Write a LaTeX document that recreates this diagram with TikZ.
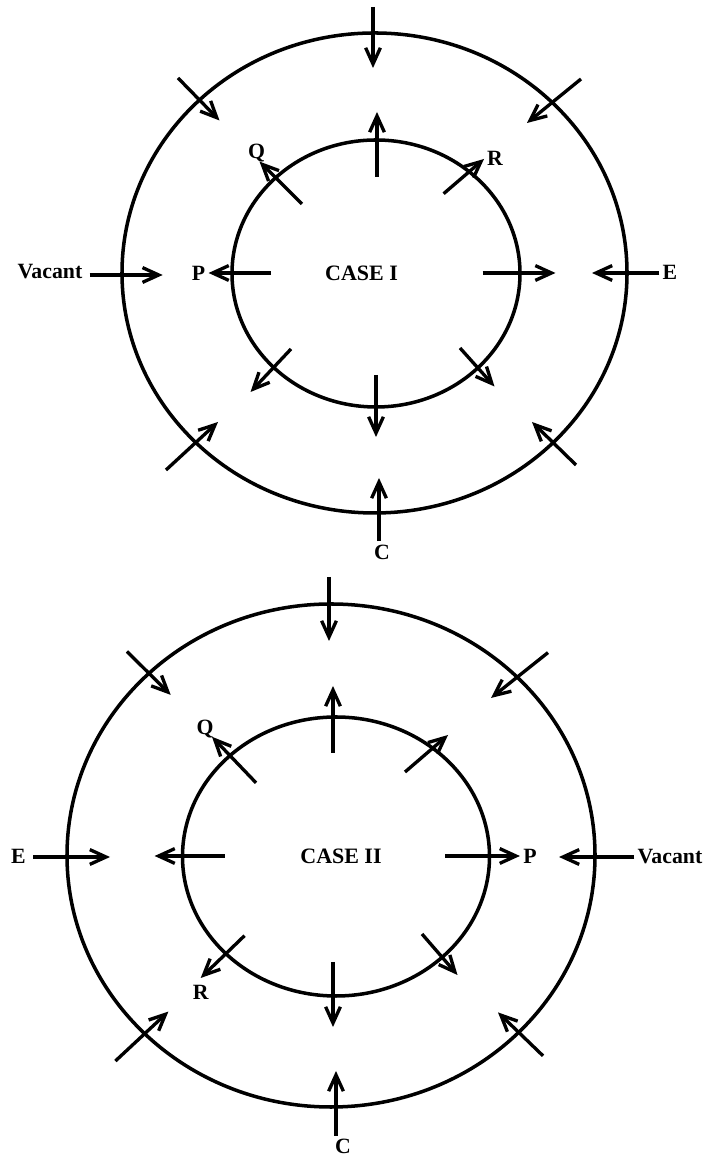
\documentclass[tikz,border=0pt]{standalone}
\usepackage{fontspec}
\setmainfont{Liberation Serif}
\usepackage{tikz}
\usetikzlibrary{positioning,arrows.meta,calc}
\tikzset{
labelnode/.style={inner sep=0.5pt, font=\bfseries\fontsize{6.2}{7}\selectfont},
casenode/.style={inner sep=0pt, font=\bfseries\fontsize{6.25}{7}\selectfont},
ring/.style={draw=black, line width=1pt},
>={Straight Barb[length=4.6pt,width=4.2pt]}
}

\begin{document}
\begin{tikzpicture}[line width=0.95pt]
\useasboundingbox (0,0) rectangle (7.26,11.55);

%Case I rings
\coordinate (centerI) at (3.745,8.82);
\coordinate (centerIin) at (3.76,8.815);
\draw[ring] (centerI) ellipse [x radius=2.525, y radius=2.40];
\draw[ring] (centerIin) ellipse [x radius=1.44, y radius=1.335];

%Case I labels
\node[casenode] (caseI) at(3.615,8.82) {CASE I};
\node[labelnode] (vacantI) at(0.50,8.83) {Vacant};
\node[labelnode] (eI) at(6.70,8.825) {E};
\node[labelnode] (pI) at(1.985,8.82) {P};
\node[labelnode] (qI) at(2.565,10.02) {Q};
\node[labelnode] (rI) at(4.95,9.965) {R};
\node[labelnode] (cI) at(3.82,6.03) {C};

%Case I arrow ends
\coordinate (I-oN-s) at (3.73,11.48);  \coordinate (I-oN-t) at (3.73,10.87);
\coordinate (I-oNW-s) at (1.78,10.77); \coordinate (I-oNW-t) at (2.195,10.345);
\coordinate (I-oNE-s) at (5.81,10.76); \coordinate (I-oNE-t) at (5.27,10.32);
\coordinate (I-oSW-s) at (1.66,6.85);  \coordinate (I-oSW-t) at (2.18,7.33);
\coordinate (I-oSE-s) at (5.76,6.90);  \coordinate (I-oSE-t) at (5.32,7.33);
\coordinate (I-oW-t) at (1.627,8.80);
\coordinate (I-oE-t) at (5.92,8.82);
\coordinate (I-oS-t) at (3.79,6.77);
\coordinate (I-iN-s) at (3.77,9.78);   \coordinate (I-iN-t) at (3.77,10.43);
\coordinate (I-iNW-s) at (3.02,9.51);  \coordinate (I-iNW-t) at (2.595,9.934);
\coordinate (I-iNE-s) at (4.436,9.613);\coordinate (I-iNE-t) at (4.84,9.96);
\coordinate (I-iW-s) at (2.71,8.82);
\coordinate (I-iE-s) at (4.825,8.82);  \coordinate (I-iE-t) at (5.555,8.82);
\coordinate (I-iSW-s) at (2.91,8.06);  \coordinate (I-iSW-t) at (2.505,7.63);
\coordinate (I-iSE-s) at (4.60,8.07);  \coordinate (I-iSE-t) at (4.945,7.685);
\coordinate (I-iS-s) at (3.76,7.80);   \coordinate (I-iS-t) at (3.76,7.18);

%Case I arrows
\draw[->] (I-oN-s) -- (I-oN-t) ;
\draw[->] (I-oNW-s) -- (I-oNW-t) ;
\draw[->] (I-oNE-s) -- (I-oNE-t) ;
\draw[->] (I-oSW-s) -- (I-oSW-t) ;
\draw[->] (I-oSE-s) -- (I-oSE-t) ;
\draw[->] (vacantI.east |- I-oW-t) ++(0.04,0) -- (I-oW-t) ;
\draw[->] (eI.west |- I-oE-t) -- (I-oE-t) ;
\draw[->] (cI.north -| I-oS-t) -- (I-oS-t) ;
\draw[->] (I-iN-s) -- (I-iN-t) ;
\draw[->] (I-iNW-s) -- (I-iNW-t) ;
\draw[->] (I-iNE-s) -- (I-iNE-t) ;
\draw[->] (I-iW-s) -- (pI) ;
\draw[->] (I-iE-s) -- (I-iE-t) ;
\draw[->] (I-iSW-s) -- (I-iSW-t) ;
\draw[->] (I-iSE-s) -- (I-iSE-t) ;
\draw[->] (I-iS-s) -- (I-iS-t) ;

%Case II rings
\coordinate (centerII) at (3.31,2.995);
\coordinate (centerIIin) at (3.36,2.985);
\draw[ring] (centerII) ellipse [x radius=2.64, y radius=2.515];
\draw[ring] (centerIIin) ellipse [x radius=1.535, y radius=1.395];

%Case II labels
\node[casenode] (caseII) at(3.41,2.99) {CASE II};
\node[labelnode] (eII) at(0.185,2.99) {E};
\node[labelnode] (vacantII) at(6.70,2.98) {Vacant};
\node[labelnode] (pII) at(5.30,2.99) {P};
\node[labelnode] (qII) at(2.05,4.26) {Q};
\node[labelnode] (cII) at(3.43,0.085) {C};

%Case II arrow ends
\coordinate (II-oN-s) at (3.29,5.78);   \coordinate (II-oN-t) at (3.29,5.14);
\coordinate (II-oNW-s) at (1.27,5.035); \coordinate (II-oNW-t) at (1.707,4.601);
\coordinate (II-oNE-s) at (5.48,5.024); \coordinate (II-oNE-t) at (4.91,4.57);
\coordinate (II-oSW-s) at (1.154,0.94); \coordinate (II-oSW-t) at (1.684,1.434);
\coordinate (II-oSE-s) at (5.43,0.992); \coordinate (II-oSE-t) at (4.98,1.426);
\coordinate (II-oW-t) at (1.10,2.98);
\coordinate (II-oE-t) at (5.59,2.98);
\coordinate (II-oS-t) at (3.36,0.84);
\coordinate (II-iN-s) at (3.33,4.02);   \coordinate (II-iN-t) at (3.33,4.69);
\coordinate (II-iNW-s) at (2.56,3.722); \coordinate (II-iNW-t) at (2.12,4.182);
\coordinate (II-iNE-s) at (4.05,3.83);  \coordinate (II-iNE-t) at (4.48,4.20);
\coordinate (II-iW-s) at (2.247,2.99);  \coordinate (II-iW-t) at (1.546,2.99);
\coordinate (II-iE-s) at (4.45,2.99);
\coordinate (II-iSW-s) at (2.445,2.193);\coordinate (II-iSW-t) at (2.007,1.77);
\coordinate (II-iSE-s) at (4.22,2.21);  \coordinate (II-iSE-t) at (4.575,1.80);
\coordinate (II-iS-s) at (3.33,1.93);   \coordinate (II-iS-t) at (3.33,1.28);
\node[labelnode, below=1pt of II-iSW-t] (rII) {R};

%Case II arrows
\draw[->] (II-oN-s) -- (II-oN-t) ;
\draw[->] (II-oNW-s) -- (II-oNW-t) ;
\draw[->] (II-oNE-s) -- (II-oNE-t) ;
\draw[->] (II-oSW-s) -- (II-oSW-t) ;
\draw[->] (II-oSE-s) -- (II-oSE-t) ;
\draw[->] (eII.east |- II-oW-t) ++(0.04,0) -- (II-oW-t) ;
\draw[->] (vacantII.west |- II-oE-t) -- (II-oE-t) ;
\draw[->] (cII.north -| II-oS-t) -- (II-oS-t) ;
\draw[->] (II-iN-s) -- (II-iN-t) ;
\draw[->] (II-iNW-s) -- (II-iNW-t) ;
\draw[->] (II-iNE-s) -- (II-iNE-t) ;
\draw[->] (II-iW-s) -- (II-iW-t) ;
\draw[->] (II-iE-s) -- (pII) ;
\draw[->] (II-iSW-s) -- (II-iSW-t) ;
\draw[->] (II-iSE-s) -- (II-iSE-t) ;
\draw[->] (II-iS-s) -- (II-iS-t) ;
\end{tikzpicture}
\end{document}
